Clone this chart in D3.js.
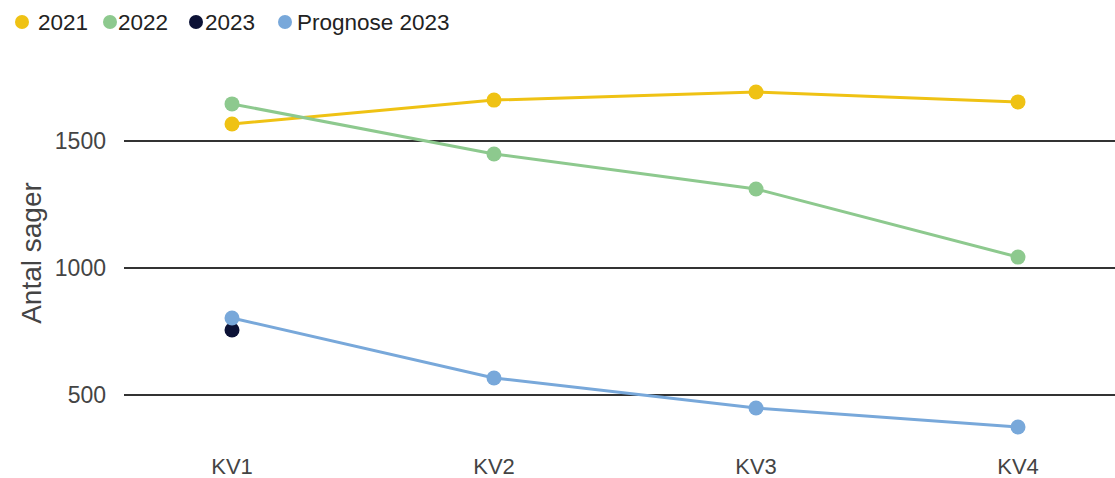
<!DOCTYPE html>
<html>
<head>
<meta charset="utf-8">
<script src="https://cdn.jsdelivr.net/npm/d3@7"></script>
<style>
  body { margin: 0; background: #fff; }
  svg { font-family: "Liberation Sans", Arial, sans-serif; }
</style>
</head>
<body>
<svg id="chart" width="1115" height="478"></svg>
<script>
const quarters = ['KV1', 'KV2', 'KV3', 'KV4']
const values2021 = [1567, 1661, 1693, 1654]
const values2022 = [1646, 1449, 1311, 1043]
const values2023 = [756]
const valuesPrognose = [803, 567, 449, 374]
const yTicks = [500, 1000, 1500]

const series = [
  { name: '2021', color: '#EFC214', values: values2021 },
  { name: '2022', color: '#8DC98E', values: values2022 },
  { name: '2023', color: '#0C1236', values: values2023 },
  { name: 'Prognose 2023', color: '#78A8DA', values: valuesPrognose }
]

const svg = d3.select('#chart')

let x = d3.scalePoint()
  .domain(quarters)
  .range([232, 1018])

let y = d3.scaleLinear()
  .domain([500, 1500])
  .range([395, 141])

// gridlines
svg.append('g').selectAll('line').data(yTicks)
  .enter()
  .append('line')
  .attr('x1', 124)
  .attr('x2', 1115)
  .attr('y1', d => y(d))
  .attr('y2', d => y(d))
  .attr('stroke', '#333')
  .attr('stroke-width', 2)

svg.append('g').selectAll('text').data(yTicks)
  .enter()
  .append('text')
  .attr('x', 106)
  .attr('y', d => y(d))
  .attr('dy', '0.35em')
  .attr('text-anchor', 'end')
  .attr('font-size', 23)
  .attr('fill', '#444')
  .text(d => d)

svg.append('g').selectAll('text').data(quarters)
  .enter()
  .append('text')
  .attr('x', d => x(d))
  .attr('y', 474)
  .attr('text-anchor', 'middle')
  .attr('font-size', 22)
  .attr('fill', '#444')
  .text(d => d)

svg.append('text')
  .attr('transform', 'translate(31,253) rotate(-90)')
  .attr('dy', '0.35em')
  .attr('text-anchor', 'middle')
  .attr('font-size', 28)
  .attr('fill', '#444')
  .text('Antal sager')

let line = d3.line()
  .x((d, i) => x(quarters[i]))
  .y(d => y(d))

series.forEach(s => {
  let g = svg.append('g')
  if (s.values.length > 1) {
    g.append('path')
      .attr('d', line(s.values))
      .attr('fill', 'none')
      .attr('stroke', s.color)
      .attr('stroke-width', 3)
  }
  g.selectAll('circle').data(s.values)
    .enter()
    .append('circle')
    .attr('cx', (d, i) => x(quarters[i]))
    .attr('cy', d => y(d))
    .attr('r', 7.5)
    .attr('fill', s.color)
})

// legend
const legendDotX = [22, 110, 196, 285]
const legendTextX = [38, 118, 205, 297]
let legend = svg.append('g').selectAll('g').data(series)
  .enter()
  .append('g')
legend.append('circle')
  .attr('cx', (d, i) => legendDotX[i])
  .attr('cy', 22)
  .attr('r', 7)
  .attr('fill', d => d.color)
legend.append('text')
  .attr('x', (d, i) => legendTextX[i])
  .attr('y', 22)
  .attr('dy', '0.35em')
  .attr('font-size', 22.5)
  .attr('fill', '#222')
  .text(d => d.name)
</script>
</body>
</html>
